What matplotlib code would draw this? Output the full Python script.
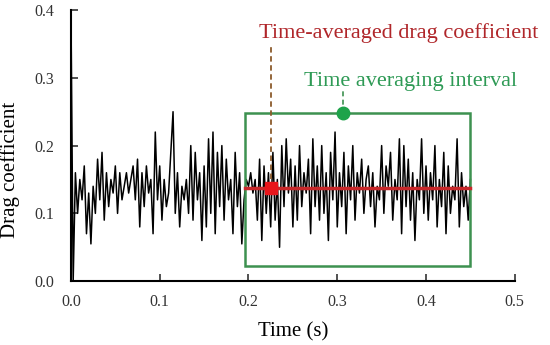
import numpy as np
import matplotlib
matplotlib.use("Agg")
import matplotlib.pyplot as plt
import matplotlib.patches as patches

# drag coefficient history, sampled every 2.5 ms
dt = 0.0025
cd = [0.40, 0.00, 0.16, 0.10, 0.15, 0.12, 0.17, 0.07, 0.13, 0.055,
      0.14, 0.10, 0.18, 0.12, 0.19, 0.09, 0.16, 0.11, 0.15, 0.13,
      0.17, 0.10, 0.16, 0.12, 0.14, 0.16, 0.13, 0.15, 0.17, 0.12,
      0.18, 0.08, 0.16, 0.11, 0.17, 0.13, 0.15, 0.07, 0.22, 0.12,
      0.17, 0.09, 0.15, 0.11, 0.13, 0.19, 0.25, 0.10, 0.16, 0.08,
      0.14, 0.12, 0.15, 0.10, 0.20, 0.09, 0.19, 0.12, 0.16, 0.06,
      0.17, 0.08, 0.21, 0.10, 0.22, 0.07, 0.19, 0.11, 0.20, 0.09,
      0.18, 0.12, 0.15, 0.07, 0.19, 0.11, 0.16, 0.055, 0.12, 0.15,
      0.14, 0.16, 0.13, 0.15, 0.09, 0.18, 0.06, 0.17, 0.10, 0.16,
      0.08, 0.19, 0.09, 0.15, 0.05, 0.20, 0.11, 0.21, 0.13, 0.18,
      0.08, 0.17, 0.09, 0.20, 0.11, 0.16, 0.13, 0.18, 0.07, 0.21,
      0.11, 0.17, 0.09, 0.20, 0.10, 0.16, 0.06, 0.19, 0.12, 0.22,
      0.08, 0.16, 0.11, 0.19, 0.07, 0.17, 0.12, 0.20, 0.09, 0.16,
      0.13, 0.18, 0.10, 0.15, 0.17, 0.11, 0.16, 0.08, 0.14, 0.12,
      0.20, 0.10, 0.17, 0.14, 0.19, 0.09, 0.15, 0.12, 0.21, 0.07,
      0.20, 0.11, 0.18, 0.09, 0.16, 0.06, 0.15, 0.12, 0.21, 0.10,
      0.17, 0.09, 0.16, 0.12, 0.20, 0.08, 0.15, 0.11, 0.19, 0.07,
      0.17, 0.10, 0.14, 0.12, 0.21, 0.08, 0.16, 0.11, 0.14, 0.09,
      0.15]
t = np.arange(len(cd)) * dt

t_start, t_end = 0.196, 0.45   # averaging interval
cd_mean = 0.137
box_low, box_high = 0.022, 0.248
t_mark = 0.225
t_green = 0.307

plt.rcParams["font.family"] = ["Liberation Serif", "DejaVu Serif"]

fig = plt.figure(figsize=(5.5, 3.45), dpi=100)
ax = fig.add_axes([0.129, 0.185, 0.807, 0.786])

ax.plot(t, cd, color="black", lw=1.1, zorder=3)

# averaging window
rect = patches.Rectangle((t_start, box_low), t_end - t_start, box_high - box_low,
                         fill=False, edgecolor="#3d9150", lw=1.8, zorder=4)
ax.add_patch(rect)
ax.plot([t_green, t_green], [box_high, 0.28], color="#3d9150", lw=1.2, ls=(0, (3, 2)), zorder=4)
ax.plot(t_green, box_high, "o", color="#1ea34a", ms=9, zorder=5)
ax.text(0.383, 0.294, "Time averaging interval", color="#2e9a55", fontsize=16,
        ha="center", va="center")

# mean value
ax.plot([t_start, t_end], [cd_mean, cd_mean], color="#c8282a", lw=2.5, zorder=5)
ax.plot([t_mark, t_mark], [cd_mean, 0.35], color="#8b5a2b", lw=1.3, ls=(0, (3, 2)), zorder=5)
ax.plot(t_mark, cd_mean, "s", color="#e8161b", ms=8, zorder=6)
ax.text(0.369, 0.366, "Time-averaged drag coefficient", color="#b0262a", fontsize=16,
        ha="center", va="center")

ax.set_xlim(0, 0.5)
ax.set_ylim(0, 0.4)
ax.set_xticks([0, 0.1, 0.2, 0.3, 0.4, 0.5])
ax.set_yticks([0, 0.1, 0.2, 0.3, 0.4])
ax.xaxis.set_major_formatter(matplotlib.ticker.FormatStrFormatter("%.1f"))
ax.yaxis.set_major_formatter(matplotlib.ticker.FormatStrFormatter("%.1f"))
ax.tick_params(direction="in", length=5, width=1.2, labelsize=11.5, colors="#333333")
ax.tick_params(axis="y", pad=12)
ax.tick_params(axis="x", pad=9)
for s in ["top", "right"]:
    ax.spines[s].set_visible(False)
for s in ["left", "bottom"]:
    ax.spines[s].set_linewidth(1.5)

ax.set_xlabel("Time (s)", fontsize=15, labelpad=9)
ax.set_ylabel("Drag coefficient", fontsize=15)
ax.yaxis.set_label_coords(-0.115, 0.41)

fig.savefig("out.png", dpi=100)
plt.close()
